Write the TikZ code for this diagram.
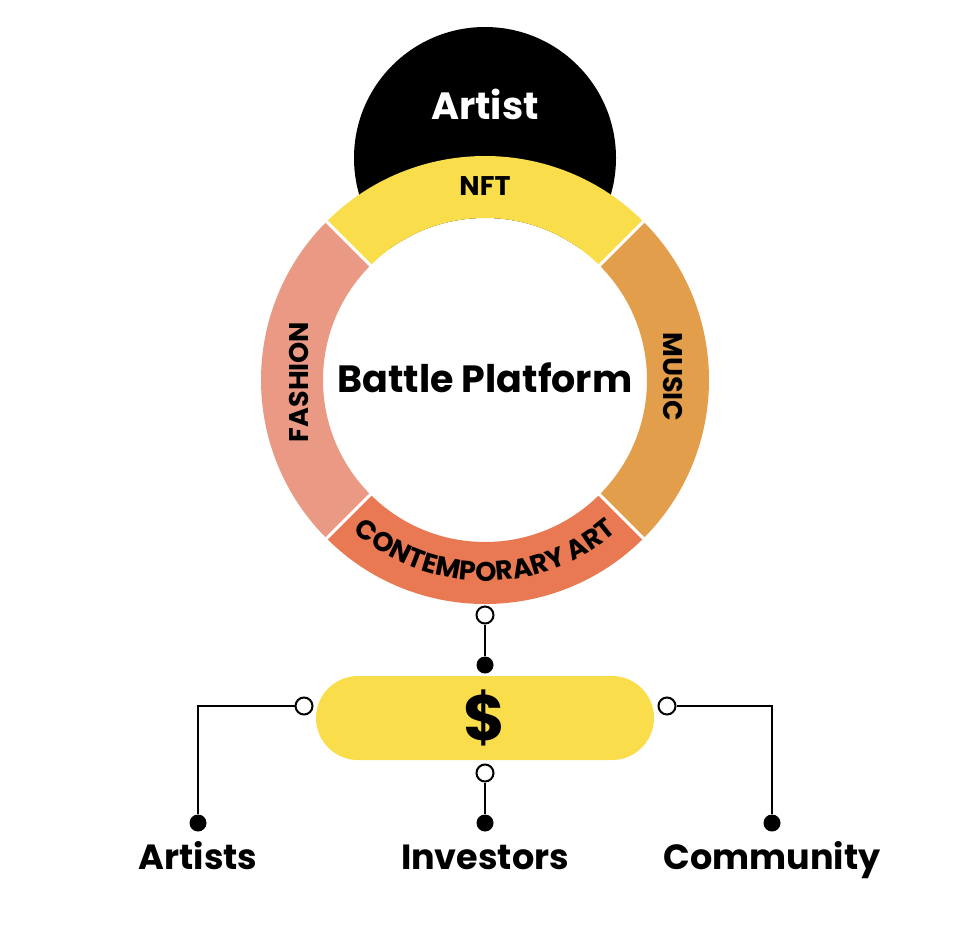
\documentclass[tikz,border=0pt]{standalone}
\usepackage{fontspec}
\setmainfont{Poppins}
\usetikzlibrary{positioning, decorations.text}
\definecolor{nftYellow}{HTML}{F9DD4B}
\definecolor{musicOrange}{HTML}{E39E4C}
\definecolor{fashionPink}{HTML}{EA9A84}
\definecolor{artOrange}{HTML}{E97953}

\tikzset{
  ringlabel/.style={font=\bfseries\fontsize{27}{27}\selectfont},
  opendot/.style={circle, draw=black, fill=white, line width=2pt, inner sep=0pt, minimum size=17pt},
  filldot/.style={circle, fill=black, inner sep=0pt, minimum size=17pt},
  wire/.style={line width=2pt},
  group/.style={font=\bfseries\fontsize{35}{35}\selectfont, anchor=base}
}

\begin{document}
\begin{tikzpicture}[x=1pt, y=1pt]
        \useasboundingbox (0,0) rectangle (964,-924);
        \coordinate (ring) at (485,-380);
        % artist disc behind the ring
        \fill[black] (485,-158) circle[radius=131];
        \fill[white] (ring) circle[radius=162];
        \foreach \a/\col in {45/nftYellow, 135/fashionPink, 225/artOrange, -45/musicOrange} {
          \pgfmathsetmacro{\b}{\a+90}
          \fill[\col, shift={(ring)}] (\a:224) arc[start angle=\a, end angle=\b, radius=224]
            -- (\b:162) arc[start angle=\b, end angle=\a, radius=162] -- cycle;
        }
        \foreach \a in {45, 135, 225, 315}
          \draw[white, line width=3pt, shift={(ring)}] (\a:158) -- (\a:230);
        \node[font=\bfseries\fontsize{38}{38}\selectfont, text=white] (artist) at (485,-104) {Artist};
        \node[font=\bfseries\fontsize{38}{38}\selectfont] (platform) at (485,-378) {Battle Platform};
        \node[ringlabel] (nft) at (485,-186) {NFT};
        \node[ringlabel, rotate=90] (fashion) at (299,-382) {FASHION};
        \node[ringlabel, rotate=-90] (music) at (673,-377) {MUSIC};
        \path[shift={(ring)}, decorate, decoration={text along path, text align=center,
            text={|\bfseries\fontsize{27}{27}\selectfont|CONTEMPORARY ART}}]
          (190:201) arc[start angle=190, end angle=350, radius=201];

        \node[fill=nftYellow, rounded corners=42pt, minimum width=338pt, minimum height=84pt,
          font=\bfseries\fontsize{64}{64}\selectfont] (money) at (485,-718) {\$};
        \node[opendot] (ringdot) at (485,-615) {};
        \node[filldot] (topdot) at (485,-665) {};
        \node[opendot] (leftdot) at (304,-706) {};
        \node[opendot] (rightdot) at (667,-706) {};
        \node[opendot] (bottomdot) at (485,-773) {};
        \node[filldot] (artistsdot) at (198,-823) {};
        \node[filldot] (investorsdot) at (485,-823) {};
        \node[filldot] (communitydot) at (772,-823) {};
        \draw[wire] (ringdot) -- (topdot);
        \draw[wire] (leftdot) -| (artistsdot);
        \draw[wire] (rightdot) -| (communitydot);
        \draw[wire] (bottomdot) -- (investorsdot);
        \node[group] (artists) at (198,-869) {Artists};
        \node[group] (investors) at (485,-869) {Investors};
        \node[group] (community) at (772,-869) {Community};
      \end{tikzpicture}
\end{document}
